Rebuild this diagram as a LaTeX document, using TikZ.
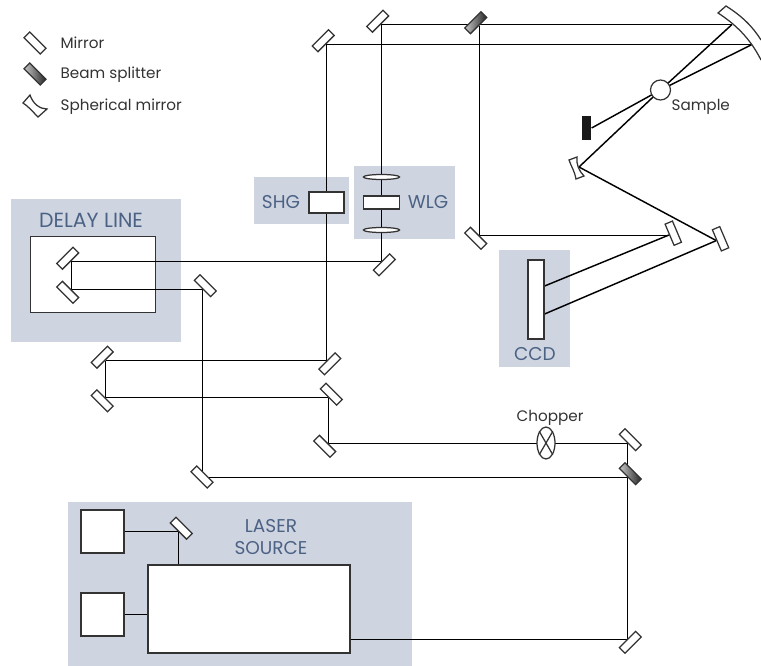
\documentclass[tikz,border=0pt]{standalone}
\usepackage{fontspec}
\setmainfont{Poppins}
\usetikzlibrary{shapes.geometric,backgrounds}
\definecolor{panelblue}{HTML}{CFD4E1}
\definecolor{labelblue}{HTML}{4B6284}
\definecolor{beamgray}{HTML}{333333}
\tikzset{
  mirror/.style={draw=beamgray, fill=white, rectangle, minimum width=23pt, minimum height=8pt, inner sep=0pt},
  splitter/.style={mirror, left color=gray!45, right color=black!85},
  panel/.style={fill=panelblue, rectangle, inner sep=0pt},
  box/.style={draw=beamgray, fill=white, rectangle, inner sep=0pt},
  lens/.style={draw=beamgray, fill=white, ellipse, minimum width=36pt, minimum height=5pt, inner sep=0pt},
  panellabel/.style={text=labelblue, font=\fontsize{18.5}{22}\selectfont, align=center, inner sep=0pt},
  caption/.style={text=beamgray, font=\fontsize{15.2}{18}\selectfont, inner sep=0pt},
  slantbeam/.style={line width=1.45pt}
}
\begin{document}
\begin{tikzpicture}[x=1pt, y=-1pt, line width=1.25pt, draw=beamgray]
  \useasboundingbox (0,0) rectangle (761,666);

  % panels
  \begin{scope}[on background layer]
    \node[panel, minimum width=170pt, minimum height=143pt] (delaypanel) at (96,270.5) {};
    \node[panel, minimum width=95pt, minimum height=47pt] (shgpanel) at (301.5,200.5) {};
    \node[panel, minimum width=101pt, minimum height=73pt] (wlgpanel) at (404.5,202.5) {};
    \node[panel, minimum width=71pt, minimum height=117pt] (ccdpanel) at (534.5,308.5) {};
    \node[panel, minimum width=344pt, minimum height=164pt] (laserpanel) at (240,584) {};
    \node[box, minimum width=125pt, minimum height=76pt] (delaybox) at (92.5,274) {};
  \end{scope}

  % labels
  \node[panellabel, font=\fontsize{20.5}{24}\selectfont] (delaytext) at (91,220) {DELAY LINE};
  \node[panellabel] (shgtext) at (281,202) {SHG};
  \node[panellabel] (wlgtext) at (428,202.5) {WLG};
  \node[panellabel] (ccdtext) at (535,354) {CCD};
  \node[panellabel] (lasertext) at (271,537) {LASER\\SOURCE};
  \node[caption, anchor=base west] (mirrortext) at (60,49) {Mirror};
  \node[caption, anchor=base west] (splittertext) at (60,79) {Beam splitter};
  \node[caption, anchor=base west] (sphericaltext) at (60,111) {Spherical mirror};
  \node[caption, anchor=base west] (sampletext) at (671,110.5) {Sample};
  \node[caption, anchor=base] (choppertext) at (550,421) {Chopper};

  % legend
  \node[mirror, rotate=-45] (legendmirror) at (35,43) {};
  \node[splitter, rotate=-45] (legendsplitter) at (35,74) {};
  \draw[fill=white] (30,95) -- (23,103) .. controls (28,106) and (33,112) .. (38,117) -- (47,109) .. controls (40,109) and (33,104) .. cycle;

  % mirrors
  \node[mirror, rotate=45, anchor=south] (mshg) at (326.5,44) {};
  \node[mirror, rotate=45, anchor=south] (mwlg) at (381,24.5) {};
  \node[splitter, rotate=45, anchor=south] (bstop) at (479,26) {};
  \node[mirror, rotate=-45, anchor=north] (mturn) at (479,235) {};
  \node[mirror, rotate=45, anchor=north] (mwhite) at (381,261.5) {};
  \node[mirror, rotate=45, anchor=south] (mdelaya) at (71,261.5) {};
  \node[mirror, rotate=-45, anchor=north] (mdelayb) at (71,289) {};
  \node[mirror, rotate=-45, anchor=south] (mdelayc) at (202,289) {};
  \node[mirror, rotate=-45] (mlow) at (202,477) {};
  \node[mirror, rotate=45, anchor=north] (mjoin) at (326.5,360.5) {};
  \node[mirror, rotate=45, anchor=south] (mlefta) at (105.5,360.5) {};
  \node[mirror, rotate=-45, anchor=north] (mleftb) at (105.5,397.5) {};
  \node[mirror, rotate=-45, anchor=south] (mmida) at (328,397.5) {};
  \node[mirror, rotate=-45, anchor=north] (mmidb) at (328,443) {};
  \node[mirror, rotate=-45, anchor=south] (mchop) at (627,443) {};
  \node[splitter, rotate=-45, anchor=south] (bslow) at (627,477) {};
  \node[mirror, rotate=45, anchor=north] (mbottom) at (627,639) {};
  \node[mirror, rotate=-45, anchor=south] (mlaser) at (178,531.5) {};
  \node[mirror, rotate=-67, anchor=south] (mfara) at (669,235) {};
  \node[mirror, rotate=-67, anchor=south] (mfarb) at (716.3,240.6) {};

  % spherical mirrors
  \draw[fill=white] (761,60) .. controls (750,38) and (735,24) .. (718,13) -- (726,6) .. controls (742,16) and (753,27) .. (761,40);
  \draw[fill=white] (569,160) -- (577,157) .. controls (576,164) and (579,171) .. (584,176) -- (576,179) .. controls (575,172) and (571,166) .. cycle;
  \coordinate (sphtop) at (732,24.5);
  \coordinate (sphlow) at (753,44);
  \coordinate (sphsmall) at (579,167);

  % boxes
  \node[box, minimum width=35pt, minimum height=21pt] (shg) at (326.5,202.5) {};
  \node[box, minimum width=36pt, minimum height=13pt] (wlg) at (381.5,202.5) {};
  \node[lens] (lensa) at (381.5,177) {};
  \node[lens] (lensb) at (381.5,230) {};
  \node[box, minimum width=16pt, minimum height=79pt] (ccd) at (536,299.5) {};
  \node[box, minimum width=43pt, minimum height=43pt] (pumpa) at (102.5,531.5) {};
  \node[box, minimum width=43pt, minimum height=43pt] (pumpb) at (102.5,614.5) {};
  \node[box, minimum width=202pt, minimum height=88pt] (laser) at (249,609) {};
  \node[box, circle, minimum size=20pt] (sample) at (660.5,90) {};
  \node[fill=black!90, rectangle, inner sep=0pt, minimum width=9pt, minimum height=24pt] (stop) at (586.5,128) {};
  \node[box, ellipse, minimum width=18pt, minimum height=32pt] (chopper) at (546,443) {};
  \draw (chopper.north west) -- (chopper.south east);
  \draw (chopper.north east) -- (chopper.south west);

  % beams
  \begin{scope}[on background layer]
    \draw (mshg.south) -- (sphlow);
    \draw (mwlg.south) -- (sphtop);
    \draw (mwlg.south) -- (mwhite.north);
    \draw (mshg.south) -- (mjoin.north);
    \draw (bstop.south) -- (mturn.north);
    \draw (mturn.north) -- (mfara.south);
    \draw (mwhite.north) -- (mdelaya.south);
    \draw (mdelaya.south) -- (mdelayb.north);
    \draw (mdelayb.north) -- (mdelayc.south);
    \draw (mdelayc.south) -- (mlow.center);
    \draw (mlow.center) -- (bslow.south);
    \draw (mjoin.north) -- (mlefta.south);
    \draw (mlefta.south) -- (mleftb.north);
    \draw (mleftb.north) -- (mmida.south);
    \draw (mmida.south) -- (mmidb.north);
    \draw (mmidb.north) -- (mchop.south);
    \draw (mchop.south) -- (mbottom.north);
    \draw (mbottom.north) -- (laser.east |- mbottom.north);
    \draw (pumpa.east) -- (mlaser.south);
    \draw (mlaser.south) -- (mlaser.south |- laser.north);
    \draw (pumpb.east) -- (laser.west |- pumpb.east);
    \draw[slantbeam] (sphtop) -- (sample.center);
    \draw[slantbeam] (sphlow) -- (sample.center);
    \draw[slantbeam] (sample.center) -- (stop.east);
    \draw[slantbeam] (sample.center) -- (sphsmall);
    \draw[slantbeam] (sphsmall) -- (mfarb.south);
    \draw[slantbeam] ([yshift=13.5pt]ccd.east) -- (mfara.south);
    \draw[slantbeam] ([yshift=-14.5pt]ccd.east) -- (mfarb.south);
  \end{scope}
\end{tikzpicture}
\end{document}
